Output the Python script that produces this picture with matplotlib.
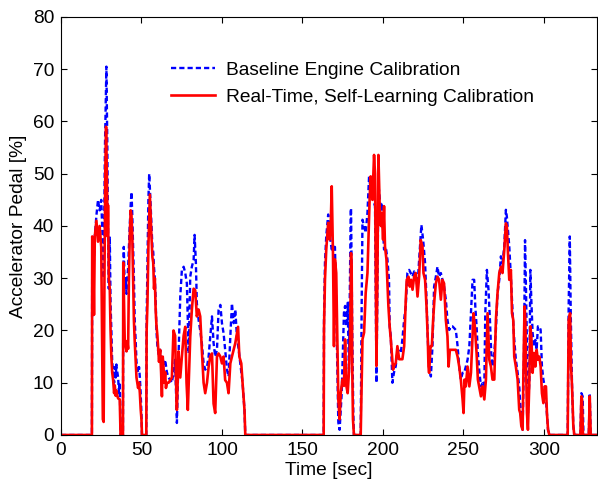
import matplotlib
matplotlib.use("Agg")
import matplotlib.pyplot as plt

plt.rcParams['font.family'] = ['Liberation Sans', 'DejaVu Sans']
plt.rcParams['font.size'] = 13.8

# Baseline engine calibration (time [s], pedal [%])
t_base = [0, 19.2, 19.4, 20, 21, 22, 23, 24, 25, 25.8, 26.5, 27.3, 28.2, 28.8, 29.2, 29.7,
          30.3, 30.8, 31.3, 31.8, 32.4, 33, 33.4, 34, 34.4, 35, 35.5, 36, 36.5, 37,
          38.5, 38.7, 39, 39.6, 40.2, 40.7, 41.2, 41.7, 42.2, 42.7, 43.3, 43.8, 44.3, 44.8,
          45.3, 45.8, 46.4, 46.9, 47.4, 47.9, 48.5, 49, 49.5, 50, 50.3,
          53, 53.2, 53.7, 54.3, 54.8, 55.4, 56.2, 56.8, 57.3, 57.8, 58.3, 58.8, 59.3, 59.9,
          60.4, 61, 61.6, 62.6, 63.7, 64.7, 65.8, 66.8, 67.9, 68.9, 69.9, 70.9, 71.5, 72,
          73, 74.1, 75.1, 76.2, 77.2, 78.2, 79.3, 80.3, 81.3, 82.4, 83, 83.8, 84.4, 85.5,
          86.5, 87.5, 88.6, 89.6, 90.7, 91.7, 93.8, 94.8, 95.8, 96.9, 97.9, 99, 100, 101,
          102, 103.1, 104.1, 105.2, 106.2, 107.3, 108.3, 109.3, 110.4, 111.4, 112.8, 114, 114.5,
          163.2, 163.4, 164, 164.8, 166, 166.9, 167.5, 168.2, 169, 170.2, 171, 172.3, 173.1,
          174.4, 175.8, 176.5, 177.3, 178.1, 178.9, 180, 180.2, 181, 181.6, 182,
          186.2, 186.8, 187.3, 188.3, 189.3, 190.4, 191.4, 192.4, 193.5, 195.1, 196, 197.2,
          198.7, 199.3, 200.7, 201.8, 202.8, 203.8, 204.2, 204.9, 205.9, 206.9, 208, 209,
          211.1, 212.1, 213.2, 214.2, 215.2, 216.3, 218.4, 219.4, 220.4, 221.5, 222.5, 223.9,
          225, 226.2, 227.1, 227.9, 228.7, 229.8, 230.8, 231.8, 232.9, 233.9, 234.9, 236,
          237, 238, 239.1, 240.1, 241.2, 242.2, 243.2, 245.3, 246.4, 247.4, 248.4, 249.5,
          250.5, 251.5, 252.6, 253.7, 254.7, 255.7, 256.7, 257.4, 258.2, 259, 259.8, 260.9,
          261.9, 263, 263.6, 264.6, 265.6, 266.5, 267.3, 268.1, 269.2, 270.2, 271.2, 272.3,
          273.3, 274.3, 275.4, 276.4, 277, 277.7, 278.5, 279.5, 280.6, 281.6, 282.6, 283.7,
          284.7, 285.4, 286, 286.8, 287.6, 288.3, 288.9, 289.5, 290.1, 291, 291.6, 292.2,
          293, 293.9, 294.7, 295.5, 296.3, 297.2, 298, 298.8, 299.7, 300.5, 301.3, 301.9,
          302.6, 303.4, 314.8, 315.4, 316.1, 316.7, 317.5, 318.3, 318.9, 322.7, 323.3,
          324.1, 324.6, 327.9, 328.5, 329.1, 333]
v_base = [0, 0, 36, 30, 38, 42, 45, 43, 45, 38, 30, 55, 70.5, 55, 40, 28,
          38, 25, 20, 14, 12, 10, 13, 11, 13.5, 12, 11, 8, 10, 0,
          0, 30, 36, 28, 30, 27, 30, 32, 36, 40, 44, 46.5, 42, 36,
          30, 22, 18, 14, 13, 12, 13, 11, 8, 4, 0,
          0, 22, 32, 45, 50, 46, 40, 36, 35, 32, 30, 26, 20, 17,
          16, 14.5, 16.3, 14, 13.5, 14.4, 12, 11, 10.5, 10, 12, 14.4, 8, 2.3,
          15, 26.5, 31.6, 32.2, 31, 29, 15.6, 30.3, 32.2, 33.5, 38.3, 33, 25.2, 22,
          20, 17.6, 13.7, 12.5, 13, 15, 22.7, 17.6, 15, 16.3, 23.9, 24.9, 21.4, 19.5,
          16.3, 12.5, 11.2, 18.8, 25.2, 21.4, 24, 18.8, 16.3, 13.7, 10, 4.8, 0,
          0, 22, 33, 38, 42.2, 39, 37, 35.5, 36, 36, 24.7, 2.4, 1,
          8, 23.4, 24.7, 20.8, 25.3, 12, 43.1, 43.4, 18.3, 4.3, 0,
          0, 24.7, 41.2, 40, 38.7, 42.5, 49.5, 47, 45.4, 43.8, 10, 48,
          43.1, 44.4, 35.5, 36, 33.6, 29.7, 20.8, 18.9, 10, 12, 13.2, 16.4,
          15.7, 18.3, 22.1, 24.7, 31, 31.6, 30.3, 31.3, 30.3, 28.4, 33.5, 40.2,
          37.3, 32.9, 25.9, 18.2, 13.1, 11.2, 17, 28.4, 30.3, 32.2, 30.3, 31,
          29.7, 28.4, 25.9, 22, 20.1, 20.8, 20.8, 20.1, 17, 13.1, 10.6, 11.9,
          11.9, 13.1, 14.4, 17, 23.3, 29.7, 29.7, 24.6, 20.8, 15.7, 12.5, 9.3,
          9.9, 9.3, 23.3, 31.6, 27.8, 22, 15.7, 13.1, 15.7, 20.1, 27.1, 29.7,
          34.2, 32.9, 36.1, 43.1, 41.8, 39.2, 36.1, 30.3, 23.3, 18.2, 14.4, 11.9,
          9.3, 5.5, 3, 1, 14.4, 37.3, 27.8, 17, 4.2, 10.6, 31.6, 25.9,
          19.5, 17, 18.2, 16.3, 20.8, 20.8, 20.1, 13.1, 10.6, 9.3, 6.8, 4.2,
          1, 0, 0, 24.6, 38, 23.3, 9.3, 1.7, 0, 0, 8,
          7.4, 0, 0, 8, 0, 0]

# Real-time, self-learning calibration
t_rt = [0, 19.2, 19.4, 20, 20.5, 21, 22, 23, 24, 25, 25.5, 26, 26.5, 27, 27.5, 28, 28.5,
        29, 29.2, 29.7, 30.3, 30.8, 31.3, 31.8, 32.4, 33, 33.4, 34, 34.4, 35, 35.5, 36.5, 37,
        38.5, 38.7, 39.2, 39.6, 40.2, 40.7, 41.2, 41.7, 42.2, 42.7, 43.3, 43.8, 44.3, 44.8,
        45.3, 45.8, 46.4, 46.9, 47.4, 47.9, 48.5, 49, 49.5, 50, 50.3,
        53, 53.2, 53.7, 54.3, 55.2, 55.7, 56.2, 56.8, 57.3, 57.8, 58.3, 58.8, 59.3, 59.9,
        60.4, 60.9, 61.6, 62.2, 62.7, 63.2, 63.7, 64.2, 64.7, 65.2, 65.8, 66.8, 67.9, 68.9,
        69.9, 70.9, 71.5, 72, 73, 74.1, 75.1, 76.2, 77.2, 78, 78.8, 80.3, 81.3, 82.4, 83.4,
        84.4, 85.5, 86.5, 87.5, 88.6, 89.6, 90.7, 91.7, 92.7, 93.8, 94.8, 95.8, 96.9, 97.9,
        99, 100, 101, 102, 103.1, 104.1, 105.2, 106.2, 108.3, 110, 110.8, 112, 112.8, 114, 114.5,
        163.2, 163.4, 164, 164.8, 166, 166.9, 167.5, 168.2, 169, 169.6, 170.2, 171, 171.7,
        172.3, 173.1, 173.8, 174.8, 175.8, 176.5, 177.3, 178.1, 178.9, 179.6, 180.2, 180.6,
        181, 181.4, 182, 186.2, 186.8, 187.3, 188.3, 189.3, 190.4, 191, 191.8, 192.4, 193.5,
        194.5, 195.1, 196, 196.6, 197.2, 198, 198.7, 199.3, 200.1, 200.7, 201.3, 202.2,
        203.4, 204.2, 204.9, 205.5, 206.3, 206.9, 208, 209, 210.1, 211.1, 212.1, 213.2,
        214.2, 214.8, 215.9, 216.7, 217.5, 218.4, 219.4, 220.4, 221.5, 222.5, 223.5, 224.6,
        225.2, 226.2, 227.1, 227.9, 228.3, 228.7, 229.6, 230.4, 231.2, 232, 232.9, 233.9,
        234.9, 236, 237, 238, 239.1, 240.1, 240.8, 241.6, 243.2, 245.3, 246.4, 247.4, 248.4,
        249.5, 250.1, 250.7, 251.5, 252.6, 253.7, 254.7, 255.7, 256.3, 257.1, 258.2, 259,
        259.8, 260.9, 261.9, 263, 264, 265, 266.1, 267.1, 268.1, 269.2, 270.2, 271.2, 272.3,
        273.3, 274.3, 275.4, 276.4, 277, 277.7, 278.5, 279.5, 280.2, 281, 281.6, 282.6,
        283.7, 284.7, 285.3, 286, 286.8, 287.4, 288, 288.5, 288.9, 289.5, 290.1, 290.9,
        291.6, 292.2, 293, 293.9, 294.7, 295.5, 296.3, 297.2, 298, 298.8, 299.7, 300.5,
        301.3, 301.9, 302.6, 303.4, 314.8, 315.4, 316.3, 316.9, 317.5, 318.3, 318.9,
        322.7, 323.3, 323.7, 324.3, 327.9, 328.5, 329.1, 333]
v_rt = [0, 0, 38, 35, 23, 38, 41, 37, 40, 36, 20, 3, 2.5, 30, 50, 59, 50,
        38, 44, 30, 28, 20, 15, 12, 10.5, 8, 9.5, 7.5, 8.5, 7.5, 7, 6.8, 0,
        0, 33, 25, 18, 17, 16, 18, 16.5, 30, 38, 43, 42, 38, 30,
        22, 18, 14, 11, 10, 9, 10, 8, 5, 3, 0,
        0, 20, 25, 36, 46, 42, 38, 34, 33, 28, 30, 24, 21, 19,
        16.5, 14, 16.3, 12, 7.4, 15, 13, 10, 12, 9, 10, 10, 10.5, 11,
        20, 19, 10, 4.8, 16, 11, 15, 19, 20.7, 10, 4.8, 18.8, 24, 28, 27.7,
        22.7, 24, 22.7, 16.3, 10, 8, 10, 13, 15, 15.6, 6, 4.2, 15, 15.6,
        15, 13.7, 15, 10.5, 10, 8, 13.7, 15, 17.6, 20.7, 15, 13.7, 10, 4.8, 0,
        0, 20.2, 29.7, 35.5, 40.6, 37.4, 39.3, 47.6, 34.2, 17, 33.6, 31, 18.3,
        6.8, 3, 8, 10.6, 9.4, 18.3, 9.4, 8, 12, 18.3, 34.8, 31,
        12, 3, 0, 0, 10.6, 18.3, 19.6, 27.2, 31, 37.4, 45.7, 49.5, 45,
        53.6, 50, 13.2, 31, 53.6, 43.8, 40, 42.5, 37.4, 43.8, 36, 33.6,
        24.7, 20.8, 18.3, 15.7, 12.5, 13.2, 13.8, 17, 14.5, 14.5, 14.5, 17,
        25.9, 29.7, 30.3, 28.4, 29.7, 27.8, 30.3, 31, 26.5, 30.3, 37.3, 36,
        31, 29.7, 24.6, 18.2, 13.1, 11.9, 17, 17, 22, 25.9, 29, 30.3,
        29.7, 25.9, 29.7, 29, 22, 18.9, 13.1, 16.3, 16.3, 16.3, 15, 13.1, 10.6,
        6.8, 4.2, 10.6, 9.3, 13.1, 9.3, 11.9, 18.9, 23.3, 20.8, 15.7, 10.6,
        9.3, 7.4, 9.3, 6.8, 10.6, 23.3, 14.4, 13.1, 10.6, 10.6, 22, 27.1, 31,
        32.2, 31, 35.4, 40.5, 39.9, 34.8, 29.7, 31.6, 23.3, 22, 15, 13.1,
        10.6, 4.8, 4.2, 1.7, 1, 14.4, 24.6, 22, 13.8, 4.2, 1, 9.3,
        20.8, 18.9, 11.9, 15.7, 13.1, 16.3, 14.4, 15, 13.1, 8, 6.1, 9.3,
        9.3, 4.2, 1, 0, 0, 22, 23.3, 13.1, 9.3, 1.7, 0,
        0, 7.4, 6.8, 0, 0, 7.4, 0, 0]

fig = plt.figure(figsize=(5.98, 4.87), dpi=100)
ax = fig.add_axes([0.102, 0.1068, 0.8963, 0.8583])

ax.plot(t_base, v_base, color='#0000ff', lw=1.7, linestyle=(0, (2.2, 1.3)),
        label='Baseline Engine Calibration')
ax.plot(t_rt, v_rt, color='#ff0000', lw=1.9, label='Real-Time, Self-Learning Calibration')

ax.set_xlim(0, 333)
ax.set_ylim(0, 80)
ax.set_xticks(range(0, 301, 50))
ax.set_yticks(range(0, 81, 10))
ax.tick_params(direction='in', top=True, right=True, length=4, width=0.8, pad=5)
for s in ax.spines.values():
    s.set_linewidth(0.8)

ax.set_xlabel('Time [sec]', labelpad=2)
ax.set_ylabel('Accelerator Pedal [%]', labelpad=4)

ax.legend(loc='upper left', bbox_to_anchor=(0.206, 0.893), frameon=False,
          borderpad=0, borderaxespad=0, handlelength=2.3, handletextpad=0.55,
          labelspacing=0.5)

fig.savefig('out.png', dpi=100)
